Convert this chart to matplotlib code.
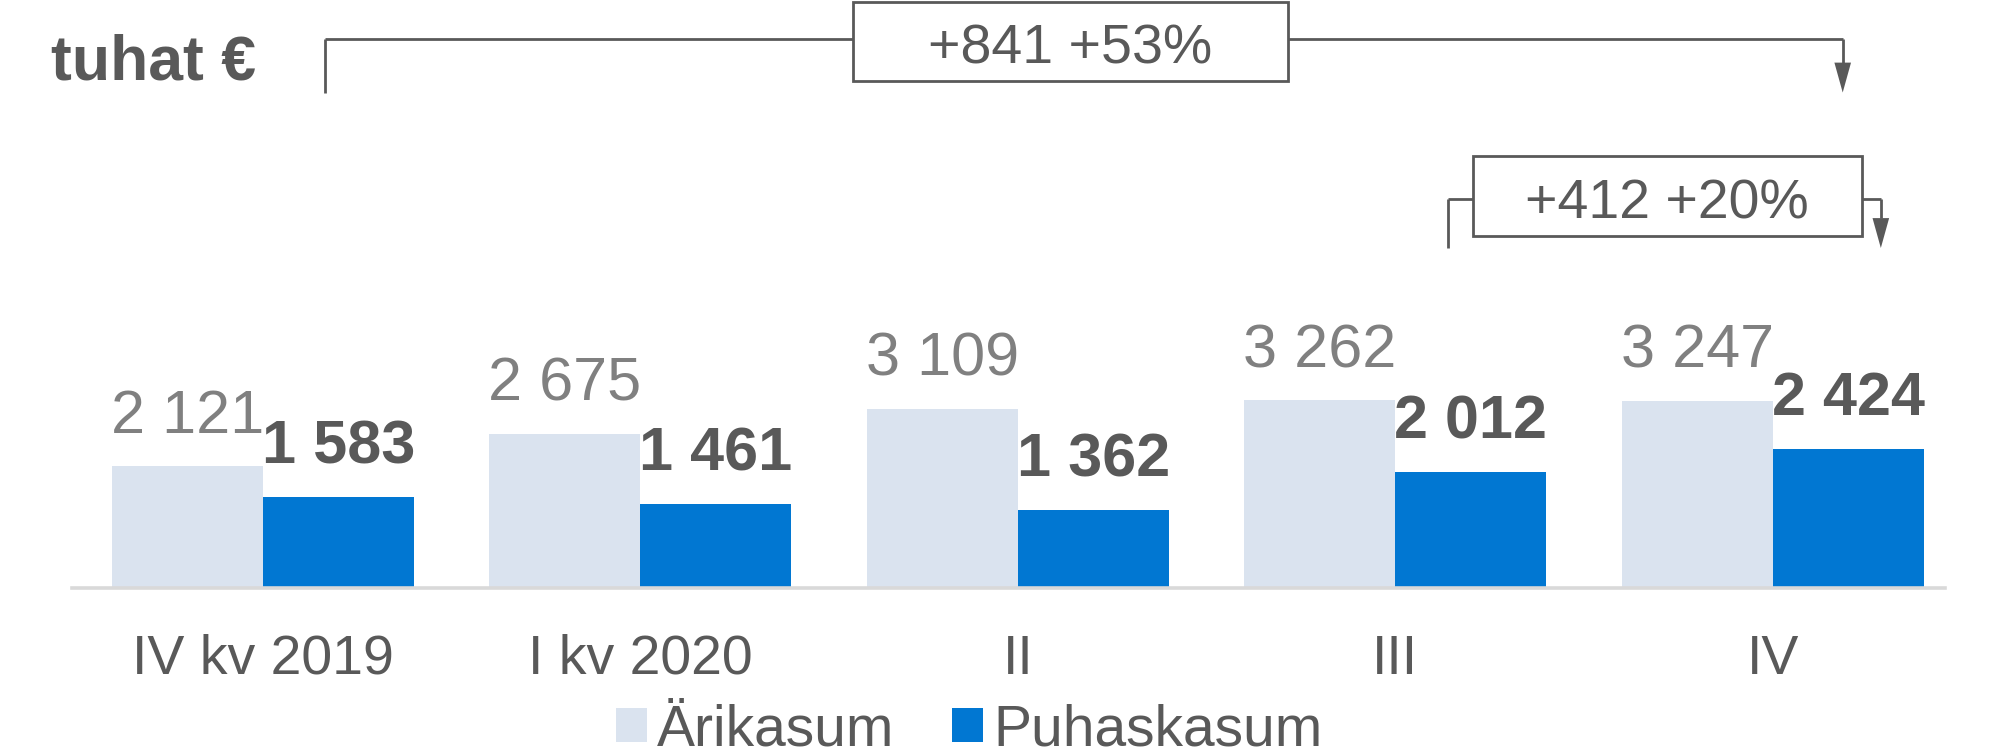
import matplotlib
matplotlib.use("Agg")
import matplotlib.pyplot as plt
from matplotlib.patches import Rectangle, Polygon
from matplotlib.lines import Line2D

plt.rcParams['font.family'] = ['Liberation Sans', 'DejaVu Sans']

categories = ["IV kv 2019", "I kv 2020", "II", "III", "IV"]
series_names = ["Ärikasum", "Puhaskasum"]
arikasum = [2121, 2675, 3109, 3262, 3247]
puhaskasum = [1583, 1461, 1362, 2012, 2424]
unit_label = "tuhat €"

LIGHT = "#DAE3EF"
BLUE = "#0177D2"
DARK = "#595959"
GREY = "#808080"

W, H = 1993, 756
fig = plt.figure(figsize=(W / 100, H / 100), dpi=100)
ax = fig.add_axes([72 / W, (H - 588) / H, 1873 / W, 588 / H])
ax.set_xlim(-0.506, 4.456)
ax.set_ylim(0, 10226)
for s in ["top", "right", "left"]:
    ax.spines[s].set_visible(False)
ax.spines["bottom"].set_color("#D9D9D9")
ax.spines["bottom"].set_linewidth(2.6)
ax.set_yticks([])

x = list(range(len(categories)))
bw = 0.4
b1 = ax.bar([i - bw / 2 for i in x], arikasum, width=bw, color=LIGHT, label=series_names[0])
b2 = ax.bar([i + bw / 2 for i in x], puhaskasum, width=bw, color=BLUE, label=series_names[1])

def fmt(v):
    return f"{v:,}".replace(",", " ")

for i, v in enumerate(arikasum):
    ax.annotate(fmt(v), (i - bw / 2, v), xytext=(0, 24), textcoords="offset points",
                ha="center", va="baseline", fontsize=44, color=GREY)
for i, v in enumerate(puhaskasum):
    ax.annotate(fmt(v), (i + bw / 2, v), xytext=(0, 24), textcoords="offset points",
                ha="center", va="baseline", fontsize=44, color=DARK, fontweight="bold")

ax.set_xticks(x)
ax.set_xticklabels(categories, fontsize=40, color=DARK)
ax.tick_params(axis="x", length=0, pad=33)

fig.text(51 / W, 1 - 80 / H, unit_label, fontsize=45, fontweight="bold", color=DARK, va="baseline")

# change annotations
def bracket(x0, x1, y_top, y_bot, box_x0, box_x1, box_y0, box_y1, text_y, text):
    kw = dict(color=DARK, lw=2.0, clip_on=False, solid_capstyle="butt")
    ax.add_line(Line2D([x0, x0], [y_bot, y_top], **kw))
    ax.add_line(Line2D([x0, box_x0], [y_top, y_top], **kw))
    ax.add_line(Line2D([box_x1, x1], [y_top, y_top], **kw))
    head_h = 520
    ax.add_line(Line2D([x1, x1], [y_top, y_bot + head_h], **kw))
    hw = 0.022
    ax.add_patch(Polygon([[x1 - hw, y_bot + head_h], [x1 + hw, y_bot + head_h], [x1, y_bot]],
                         closed=True, color=DARK, clip_on=False, lw=0))
    ax.add_patch(Rectangle((box_x0, box_y0), box_x1 - box_x0, box_y1 - box_y0,
                           facecolor="white", edgecolor=DARK, lw=2.0, clip_on=False))
    ax.text((box_x0 + box_x1) / 2, text_y, text, ha="center", va="baseline",
            fontsize=40, color=DARK, clip_on=False)

d1 = puhaskasum[-1] - puhaskasum[0]
p1 = round(100 * d1 / puhaskasum[0])
d2 = puhaskasum[-1] - puhaskasum[-2]
p2 = int(100 * d2 / puhaskasum[-2])
bracket(0.165, 4.185, 9550, 8617, 1.563, 2.715, 8817, 10187, 9122, f"+{d1} +{p1}%")
bracket(3.139, 4.286, 6757, 5913, 3.205, 4.235, 6122, 7513, 6424, f"+{d2} +{p2}%")

leg = fig.legend(handles=[b1, b2], labels=series_names, loc="center",
                 bbox_to_anchor=(969 / W, 1 - 730 / H), ncol=2, frameon=False,
                 fontsize=41, handlelength=0.55, handleheight=0.55,
                 handletextpad=0.18, columnspacing=1.0, borderpad=0, borderaxespad=0)
for t in leg.get_texts():
    t.set_color(DARK)

fig.savefig("out.png", dpi=100)
